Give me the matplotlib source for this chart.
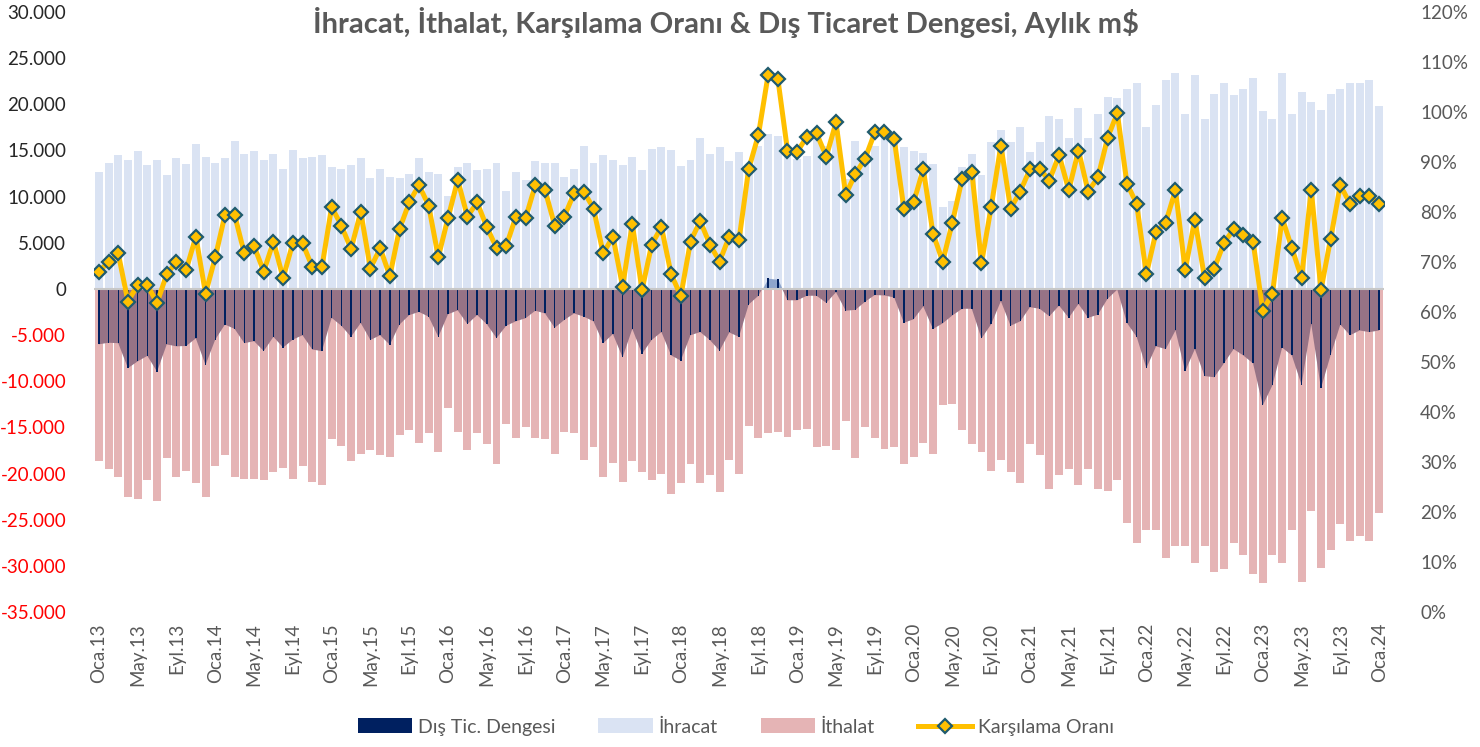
import matplotlib
matplotlib.use("Agg")
import matplotlib.pyplot as plt
import numpy as np
from matplotlib.patches import Patch
from matplotlib.lines import Line2D

plt.rcParams['font.family'] = ['Lato', 'DejaVu Sans']

# ---------------- data ----------------
month_names = ["Oca", "Şub", "Mar", "Nis", "May", "Haz",
               "Tem", "Ağu", "Eyl", "Eki", "Kas", "Ara"]
years = list(range(13, 25))
categories = [f"{m}.{y}" for y in years for m in month_names][:133]

# İhracat (m$)
exports = [
    12660, 13690, 14500, 13990, 14890, 13470, 13990, 12310, 14160, 13510, 15700, 14330,
    13690, 14160, 16050, 14670, 14890, 13990, 14670, 13000, 15060, 14160, 14330, 14500,
    13170, 13000, 13470, 14160, 11970, 13000, 12140, 11970, 12480, 14160, 12660, 12480,
    10120, 13170, 13690, 12830, 13000, 13690, 10640, 12660, 11800, 13810, 13640, 13640,
    12140, 13000, 15530, 13640, 14500, 13990, 13470, 14330, 12830, 15190, 15360, 15020,
    13300, 13990, 16390, 14670, 15360, 13810, 14840, 13110, 15430, 16820, 16530, 14770,
    14090, 14400, 16420, 15480, 17140, 11930, 16050, 13580, 15510, 16620, 16230, 15340,
    14900, 14750, 13510, 8880, 9570, 13170, 14670, 12310, 15870, 17200, 15870, 17550,
    14840, 15870, 18750, 18400, 16390, 19610, 16390, 18920, 20810, 20640, 21620, 22310,
    17550, 19910, 22650, 23340, 18920, 23170, 18400, 21150, 22310, 20980, 21620, 22820,
    19260, 18400, 23340, 18920, 21320, 20290, 19430, 21150, 21620, 22310, 22310, 22650,
    19780,
]

# İthalat (m$)
imports = [
    18660, 19520, 20380, 22570, 22740, 20720, 22950, 18320, 20380, 19690, 21060, 22570,
    19180, 18020, 20380, 20550, 20550, 20720, 19860, 19350, 20550, 19180, 20890, 21240,
    16300, 16990, 18660, 17850, 17500, 18020, 18190, 15830, 15320, 16650, 15660, 17680,
    12870, 15490, 17500, 15660, 16820, 19010, 14630, 16170, 14970, 16170, 16300, 17850,
    15490, 15660, 18530, 17160, 20380, 18880, 20890, 18660, 19860, 20720, 20030, 22220,
    21060, 19010, 21060, 20210, 22050, 18530, 20030, 14800, 16170, 15660, 15490, 16000,
    15320, 15140, 17160, 16990, 17500, 14290, 18320, 14970, 16170, 17330, 17160, 19010,
    18190, 16650, 17850, 12610, 12440, 15320, 16820, 17680, 19690, 18530, 19860, 21060,
    16820, 18020, 21710, 20210, 19520, 21240, 19520, 21710, 21880, 20720, 25310, 27500,
    26130, 26130, 29170, 27840, 27840, 29690, 27840, 30720, 30370, 27500, 28830, 30890,
    31880, 28830, 29690, 26130, 31700, 24110, 30200, 28310, 25480, 27330, 26810, 27330,
    24280,
]

# Karşılama Oranı (%)
coverage = [
    68.1, 70.0, 71.7, 62.1, 65.4, 65.4, 61.8, 67.6, 70.0, 68.4, 75.1, 63.7,
    70.9, 79.4, 79.4, 71.7, 73.2, 68.1, 74.1, 66.8, 73.8, 73.8, 69.0, 69.0,
    81.0, 77.3, 72.6, 80.0, 68.7, 72.8, 67.2, 76.6, 81.9, 85.4, 81.3, 71.0,
    78.8, 86.4, 79.1, 81.9, 77.0, 72.8, 73.2, 79.1, 78.8, 85.4, 84.4, 77.3,
    79.1, 83.8, 84.1, 80.7, 71.7, 75.1, 65.1, 77.6, 64.4, 73.5, 77.0, 67.6,
    63.2, 74.1, 78.2, 73.5, 70.1, 75.1, 74.4, 88.6, 95.4, 107.4, 106.7, 92.3,
    92.0, 95.1, 95.7, 91.1, 97.9, 83.5, 87.6, 90.7, 95.9, 95.9, 94.6, 80.7,
    81.9, 88.6, 75.7, 70.1, 77.9, 86.6, 88.1, 69.8, 81.0, 93.3, 80.7, 84.1,
    88.6, 88.6, 86.3, 91.4, 84.4, 92.3, 84.1, 86.9, 94.8, 99.8, 85.7, 81.6,
    67.6, 76.0, 77.9, 84.4, 68.4, 78.5, 66.8, 68.7, 73.8, 76.6, 75.4, 74.1,
    60.3, 63.7, 78.8, 72.8, 66.8, 84.4, 64.4, 74.7, 85.4, 81.6, 83.2, 83.2,
    81.6,
]

left_ticks = list(range(-35000, 30001, 5000))
right_ticks = [i / 100 for i in range(0, 121, 10)]
legend_labels = ["Dış Tic. Dengesi", "İhracat", "İthalat", "Karşılama Oranı"]
title = "İhracat, İthalat, Karşılama Oranı & Dış Ticaret Dengesi, Aylık m$"

# ---------------- plot ----------------
x = np.arange(len(categories))
exp_arr = np.array(exports, dtype=float)
imp_arr = np.array(imports, dtype=float)
balance = exp_arr - imp_arr
ratio = np.array(coverage) / 100.0

C_EXP = '#DAE3F3'
C_IMP = '#E5B4B5'
C_BAL = '#002060'
C_AREA_NEG = '#977386'
C_AREA_POS = '#8EA5CC'
C_LINE = '#FFC000'
C_EDGE = '#1F5B6E'
C_TXT = '#595959'

fig = plt.figure(figsize=(14.8, 7.47), dpi=100)
ax = fig.add_axes([94 / 1480, 1 - 612 / 747, 1290 / 1480, 600 / 747])

ax.bar(x, exp_arr, width=0.82, color=C_EXP, zorder=1)
ax.bar(x, -imp_arr, width=0.82, color=C_IMP, zorder=1)
ax.fill_between(x, balance, 0, where=balance <= 0, interpolate=True,
                color=C_AREA_NEG, lw=0, zorder=2)
ax.fill_between(x, balance, 0, where=balance >= 0, interpolate=True,
                color=C_AREA_POS, lw=0, zorder=2)
ax.bar(x, balance, width=0.15, color=C_BAL, zorder=3)
ax.axhline(0, color='#C8C8C8', lw=1.5, zorder=4)

ax.set_xlim(-0.5, len(categories) - 0.5)
ax.set_ylim(-35000, 30000)
ax.set_yticks(left_ticks)
ax.set_yticklabels([f"{v:,.0f}".replace(",", ".") for v in left_ticks])
for lbl, v in zip(ax.get_yticklabels(), left_ticks):
    lbl.set_color('#FF0000' if v < 0 else '#262626')
    lbl.set_fontsize(13.5)

tick_pos = list(range(0, len(categories), 4))
ax.set_xticks(tick_pos)
ax.set_xticklabels([categories[i] for i in tick_pos], rotation=90,
                   fontsize=13.5, color=C_TXT)
ax.tick_params(axis='x', length=0, pad=8)
ax.tick_params(axis='y', length=0, pad=20)
for s in ax.spines.values():
    s.set_visible(False)

ax2 = ax.twinx()
ax2.plot(x, ratio, color=C_LINE, lw=3.6, marker='D', ms=7.5,
         mfc=C_LINE, mec=C_EDGE, mew=1.6, zorder=5)
ax2.set_ylim(0, 1.2)
ax2.set_yticks(right_ticks)
ax2.set_yticklabels([f"{int(round(t * 100))}%" for t in right_ticks],
                    fontsize=13.5, color=C_TXT)
ax2.tick_params(axis='y', length=0, pad=26)
for s in ax2.spines.values():
    s.set_visible(False)

fig.text(726 / 1480, 1 - 22 / 747, title, ha='center', va='center',
         fontsize=21, fontweight='bold', color=C_TXT)

handles = [
    Patch(facecolor=C_BAL, edgecolor='none'),
    Patch(facecolor=C_EXP, edgecolor='none'),
    Patch(facecolor=C_IMP, edgecolor='none'),
    Line2D([0], [0], color=C_LINE, lw=3.6, marker='D', ms=7.5,
           mfc=C_LINE, mec=C_EDGE, mew=1.6),
]
fig.legend(handles, legend_labels, loc='center',
           bbox_to_anchor=(736 / 1480, 1 - 727 / 747), ncol=4, frameon=False,
           fontsize=14, handlelength=2.8, handleheight=0.8, columnspacing=2.2,
           handletextpad=0.3, labelcolor=C_TXT)

fig.savefig("out.png", dpi=100)
